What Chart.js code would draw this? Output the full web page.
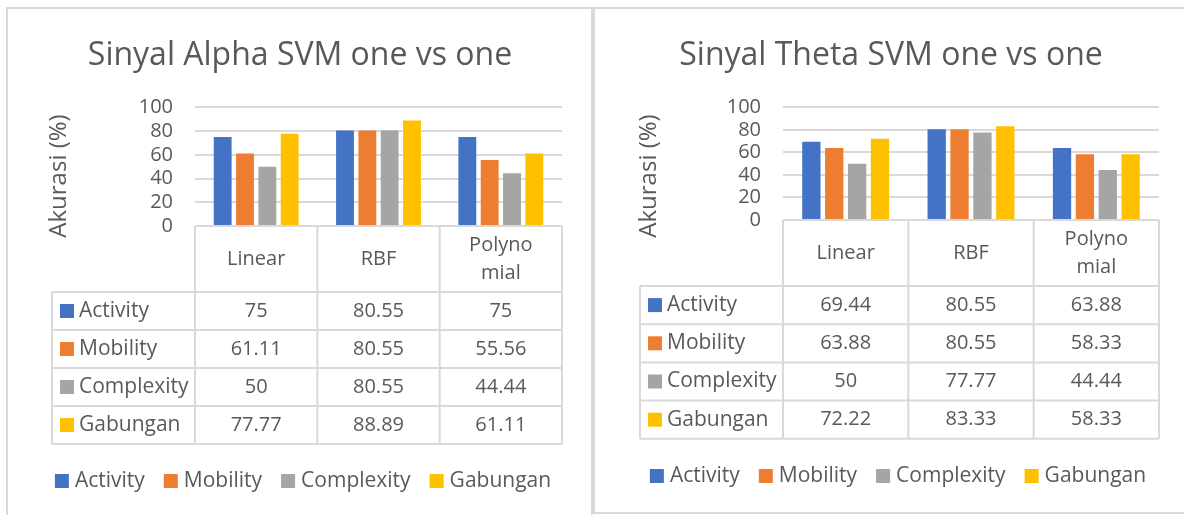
<!DOCTYPE html>
<html>
<head>
<meta charset="utf-8">
<script src="https://cdn.jsdelivr.net/npm/chart.js@4.4.0/dist/chart.umd.min.js"></script>
<style>
  html, body { margin: 0; padding: 0; background: #fff; width: 1184px; height: 515px; overflow: hidden; }
  .panel { position: absolute; box-sizing: border-box; border: 2px solid #d9d9d9; background: #fff; }
  #leftPanel { left: 6px; top: 7px; width: 587px; height: 530px; }
  #rightPanel { left: 593px; top: 7px; width: 620px; height: 507px; }
  canvas { position: absolute; }
  #alphaChart { left: 8px; top: 10px; }
  #thetaChart { left: 596px; top: 10px; }
</style>
</head>
<body>
<div class="panel" id="leftPanel"></div>
<div class="panel" id="rightPanel"></div>
<canvas id="alphaChart" width="582" height="505"></canvas>
<canvas id="thetaChart" width="588" height="501"></canvas>
<script>
// data
const categories = ['Linear', 'RBF', ['Polyno', 'mial']];
const seriesNames = ['Activity', 'Mobility', 'Complexity', 'Gabungan'];
const yTicks = [0, 20, 40, 60, 80, 100];

const alphaActivity = [75, 80.55, 75];
const alphaMobility = [61.11, 80.55, 55.56];
const alphaComplexity = [50, 80.55, 44.44];
const alphaGabungan = [77.77, 88.89, 61.11];

const thetaActivity = [69.44, 80.55, 63.88];
const thetaMobility = [63.88, 80.55, 58.33];
const thetaComplexity = [50, 77.77, 44.44];
const thetaGabungan = [72.22, 83.33, 58.33];

const colors = ['#4472c4', '#ed7d31', '#a5a5a5', '#ffc000'];
const textColor = '#595959';
const lineColor = '#d9d9d9';
const fontFamily = "'Open Sans', 'Noto Sans', sans-serif";

// draws the data table under the plot, the legend and the rotated y title
const tablePlugin = {
    id: 'dataTable',
    afterDraw(chart, args, opts) {
        const { ctx, chartArea } = chart;
        const xs = chart.scales.x;
        const n = chart.data.labels.length;
        const colW = (chartArea.right - chartArea.left) / n;
        const top = chartArea.bottom;
        const headBottom = top + opts.headerHeight;
        const rows = chart.data.datasets;
        const bottom = headBottom + rows.length * opts.rowHeight;

        ctx.save();
        ctx.strokeStyle = lineColor;
        ctx.lineWidth = 2;
        ctx.beginPath();
        ctx.moveTo(chartArea.left, top);
        ctx.lineTo(chartArea.right, top);
        for (let r = 0; r <= rows.length; r++) {
            const y = headBottom + r * opts.rowHeight;
            ctx.moveTo(opts.left, y);
            ctx.lineTo(chartArea.right, y);
        }
        for (let c = 0; c <= n; c++) {
            const x = chartArea.left + c * colW;
            ctx.moveTo(x, top);
            ctx.lineTo(x, bottom);
        }
        ctx.moveTo(opts.left, headBottom);
        ctx.lineTo(opts.left, bottom);
        ctx.stroke();

        ctx.font = '20px ' + fontFamily;
        ctx.fillStyle = textColor;
        ctx.textAlign = 'center';
        ctx.textBaseline = 'middle';
        chart.data.labels.forEach((lab, i) => {
            const cx = xs.getPixelForValue(i);
            const lines = Array.isArray(lab) ? lab : [lab];
            const cy = top + opts.headerHeight / 2;
            lines.forEach((t, k) => {
                ctx.fillText(t, cx, cy + (k - (lines.length - 1) / 2) * 28);
            });
        });

        rows.forEach((ds, r) => {
            const cy = headBottom + (r + 0.5) * opts.rowHeight;
            ctx.fillStyle = ds.backgroundColor;
            ctx.fillRect(opts.left + 8, cy - 7, 14, 14);
            ctx.fillStyle = textColor;
            ctx.textAlign = 'left';
            ctx.font = '21px ' + fontFamily;
            ctx.fillText(ds.label, opts.left + 27, cy);
            ctx.textAlign = 'center';
            ctx.font = '20px ' + fontFamily;
            ds.data.forEach((v, i) => ctx.fillText(String(v), xs.getPixelForValue(i), cy));
        });

        // legend under the table
        ctx.font = '21px ' + fontFamily;
        ctx.textAlign = 'left';
        const widths = rows.map(ds => 14 + 6 + ctx.measureText(ds.label).width);
        const total = widths.reduce((a, b) => a + b, 0) + 19 * (rows.length - 1);
        let lx = opts.legendX - total / 2;
        const ly = top + opts.legendOffset;
        rows.forEach((ds, r) => {
            ctx.fillStyle = ds.backgroundColor;
            ctx.fillRect(lx, ly - 7, 14, 14);
            ctx.fillStyle = textColor;
            ctx.fillText(ds.label, lx + 20, ly);
            lx += widths[r] + 19;
        });

        // y axis title
        ctx.translate(opts.yTitleX, opts.yTitleY);
        ctx.rotate(-Math.PI / 2);
        ctx.font = '24px ' + fontFamily;
        ctx.textAlign = 'center';
        ctx.textBaseline = 'alphabetic';
        ctx.fillText('Akurasi (%)', 0, 0);
        ctx.restore();
    }
};

function makeChart(id, title, values, box) {
    const ctx = document.getElementById(id).getContext('2d');
    return new Chart(ctx, {
        type: 'bar',
        data: {
            labels: categories,
            datasets: seriesNames.map((name, i) => ({
                label: name,
                data: values[i],
                backgroundColor: colors[i],
                categoryPercentage: 0.73,
                barPercentage: 0.8
            }))
        },
        plugins: [tablePlugin],
        options: {
            responsive: false,
            animation: false,
            devicePixelRatio: 1,
            layout: { padding: { left: box.padLeft, right: box.padRight, top: 0, bottom: box.padBottom } },
            scales: {
                x: {
                    grid: { display: false },
                    border: { display: false },
                    ticks: { display: false },
                    afterFit(scale) { scale.height = box.xHeight; }
                },
                y: {
                    min: yTicks[0],
                    max: yTicks[yTicks.length - 1],
                    ticks: {
                        stepSize: yTicks[1] - yTicks[0],
                        autoSkip: false,
                        color: textColor,
                        padding: 22,
                        font: { family: fontFamily, size: 20 }
                    },
                    grid: { color: lineColor, lineWidth: 2, drawTicks: false },
                    border: { display: false },
                    afterFit(scale) { scale.width = box.yWidth; }
                }
            },
            plugins: {
                title: {
                    display: true,
                    text: title,
                    color: textColor,
                    font: { family: fontFamily, size: 32, weight: 'normal' },
                    padding: { top: 27, bottom: 32 }
                },
                legend: { display: false },
                tooltip: { enabled: false },
                dataTable: {
                    left: 44,
                    headerHeight: box.headerHeight,
                    rowHeight: box.rowHeight,
                    legendX: box.legendX,
                    legendOffset: box.legendOffset,
                    yTitleX: box.yTitleX,
                    yTitleY: 166
                }
            }
        }
    });
}

makeChart('alphaChart', 'Sinyal Alpha SVM one vs one',
    [alphaActivity, alphaMobility, alphaComplexity, alphaGabungan],
    { padLeft: 30, padRight: 28, padBottom: 71, xHeight: 218, yWidth: 157,
      headerHeight: 66, rowHeight: 38, legendX: 295, legendOffset: 255, yTitleX: 58 });

makeChart('thetaChart', 'Sinyal Theta SVM one vs one',
    [thetaActivity, thetaMobility, thetaComplexity, thetaGabungan],
    { padLeft: 27, padRight: 25, padBottom: 73, xHeight: 218, yWidth: 160,
      headerHeight: 66, rowHeight: 38.2, legendX: 302, legendOffset: 256, yTitleX: 60 });
</script>
</body>
</html>
